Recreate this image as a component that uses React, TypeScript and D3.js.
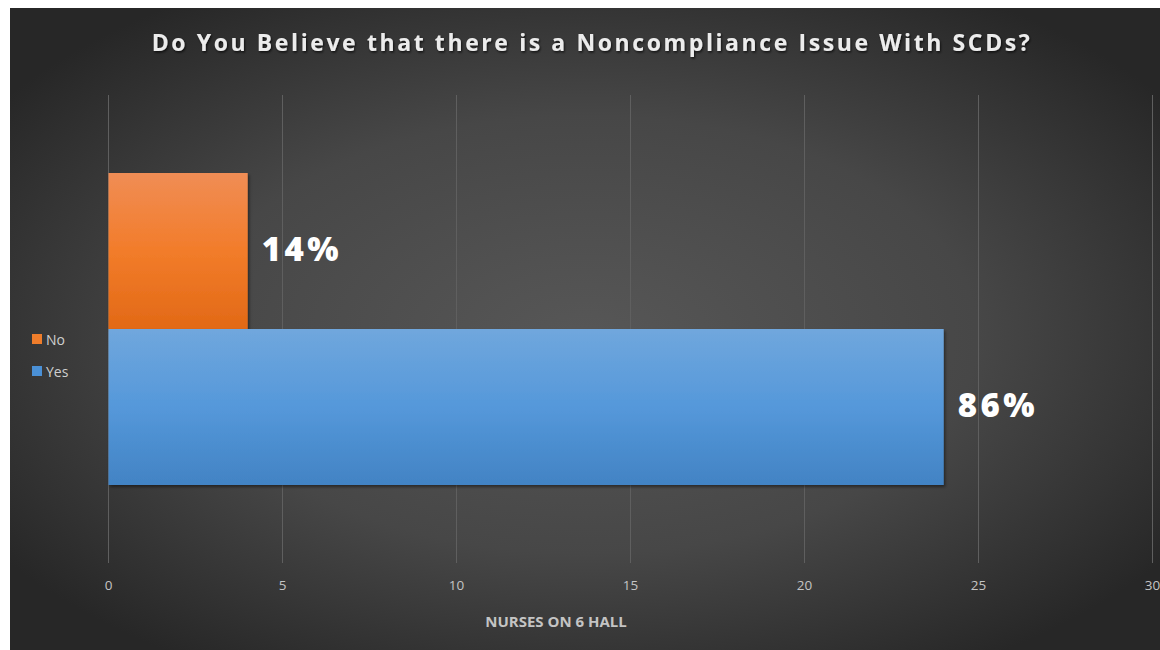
import React from "react";
import * as d3 from "d3";

const title = "Do You Believe that there is a Noncompliance Issue With SCDs?";
const categories = ["Q"];
const seriesNames = ["No", "Yes"];
const seriesValues = [4, 24];
const seriesLabels = ["14%", "86%"];
const xTicks = [0, 5, 10, 15, 20, 25, 30];
const xAxisTitle = "NURSES ON 6 HALL";

const W = 1160;
const H = 650;

export default function App() {
  const x = d3.scaleLinear().domain([0, 30]).range([108.5, 1152.5]);
  const yCat = d3.scaleBand().domain(categories).range([95, 563]).paddingOuter(0.25).paddingInner(0);
  const ySer = d3.scaleBand().domain(seriesNames).range([0, yCat.bandwidth()]).padding(0);
  const fills = ["url(#gOrange)", "url(#gBlue)"];
  const legendColors = ["#ef7d2b", "#4a90d6"];

  return (
    <svg width={W} height={H} style={{ position: "absolute", left: 0, top: 0 }}>
      <defs>
        <radialGradient id="bg" cx="0.5" cy="0.5" r="0.62" fx="0.5" fy="0.52">
          <stop offset="0" stopColor="#575757" />
          <stop offset="0.55" stopColor="#474747" />
          <stop offset="1" stopColor="#272727" />
        </radialGradient>
        <linearGradient id="gOrange" x1="0" y1="0" x2="0" y2="1">
          <stop offset="0" stopColor="#f08d55" />
          <stop offset="0.5" stopColor="#f27c2a" />
          <stop offset="1" stopColor="#e26916" />
        </linearGradient>
        <linearGradient id="gBlue" x1="0" y1="0" x2="0" y2="1">
          <stop offset="0" stopColor="#70a7dd" />
          <stop offset="0.5" stopColor="#5598da" />
          <stop offset="1" stopColor="#4283c4" />
        </linearGradient>
        <filter id="shadow" x="-5%" y="-5%" width="115%" height="120%">
          <feDropShadow dx="1.5" dy="2" stdDeviation="1.5" floodColor="#000" floodOpacity="0.45" />
        </filter>
        <filter id="tshadow" x="-5%" y="-30%" width="110%" height="160%">
          <feDropShadow dx="1" dy="1.5" stdDeviation="1.2" floodColor="#000" floodOpacity="0.7" />
        </filter>
      </defs>
      <rect x={0} y={0} width={W} height={H} fill="#ffffff" />
      <rect x={10} y={8} width={W - 10} height={H - 8} fill="url(#bg)" />

      <text
        x={592}
        y={51}
        textAnchor="middle"
        fontFamily="'Open Sans', sans-serif"
        fontWeight={700}
        fontSize={23}
        letterSpacing={2.6}
        fill="#ececec"
        filter="url(#tshadow)"
      >
        {title}
      </text>

      {xTicks.map((t) => (
        <line key={"g" + t} x1={x(t)} x2={x(t)} y1={95} y2={563} stroke="#5f5f5f" strokeWidth={1} />
      ))}
      {xTicks.map((t) => (
        <text
          key={"t" + t}
          x={x(t)}
          y={590}
          textAnchor="middle"
          fontFamily="'Open Sans', sans-serif"
          fontSize={13.5}
          fill="#c4c4c4"
        >
          {t}
        </text>
      ))}
      <text
        x={556}
        y={627}
        textAnchor="middle"
        fontFamily="'Open Sans', sans-serif"
        fontWeight={700}
        fontSize={15}
        letterSpacing={0}
        fill="#c4c4c4"
      >
        {xAxisTitle}
      </text>

      {seriesNames.map((s, i) => {
        const y0 = (yCat(categories[0]) as number) + (ySer(s) as number);
        const h = ySer.bandwidth();
        return (
          <g key={s}>
            <rect
              x={x(0)}
              y={y0}
              width={x(seriesValues[i]) - x(0)}
              height={h}
              fill={fills[i]}
              filter="url(#shadow)"
            />
            <text
              x={x(seriesValues[i]) + 14}
              y={y0 + h / 2 + 10}
              fontFamily="'Open Sans', sans-serif"
              fontWeight={800}
              fontSize={33}
              letterSpacing={3.5}
              fill="#ffffff"
            >
              {seriesLabels[i]}
            </text>
          </g>
        );
      })}

      {seriesNames.map((s, i) => (
        <g key={"l" + s} transform={`translate(32, ${334 + i * 32})`}>
          <rect x={0} y={0} width={10} height={10} fill={legendColors[i]} />
          <text x={14} y={10.5} fontFamily="'Open Sans', sans-serif" fontSize={14} fill="#cfcfcf">
            {s}
          </text>
        </g>
      ))}
    </svg>
  );
}
